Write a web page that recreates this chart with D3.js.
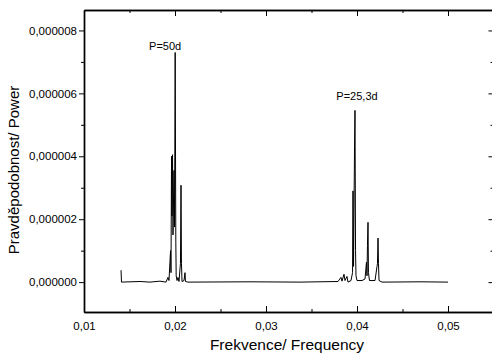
<!DOCTYPE html>
<html>
<head>
<meta charset="utf-8">
<script src="https://cdn.jsdelivr.net/npm/d3@7"></script>
<style>
body { margin: 0; background: #fff; }
svg { display: block; font-family: "Liberation Sans", Arial, sans-serif; }
.axis path, .axis line { stroke: #000; }
.axis text { fill: #000; font-size: 11.5px; }
</style>
</head>
<body>
<div id="chart-area"></div>
<script>

// periodogram: frequency [1/d] and power
var freq = [0.01407, 0.01412, 0.01615, 0.01725, 0.01835, 0.01901, 0.01923, 0.01934,
	0.01951, 0.01956, 0.01962, 0.01967, 0.01973, 0.01978, 0.01989, 0.01995,
	0.02002, 0.02009, 0.02013, 0.02022, 0.02033, 0.02044, 0.02060, 0.02066,
	0.02071, 0.02077, 0.02099, 0.02110, 0.02115, 0.02143, 0.02824, 0.03374,
	0.03791, 0.03824, 0.03835, 0.03857, 0.03868, 0.03890, 0.03901, 0.03934,
	0.03951, 0.03956, 0.03962, 0.03973, 0.03978, 0.03984, 0.03989, 0.04000,
	0.04055, 0.04088, 0.04104, 0.04110, 0.04115, 0.04121, 0.04126, 0.04137,
	0.04198, 0.04220, 0.04225, 0.04231, 0.04236, 0.04242, 0.04275, 0.04692, 0.05000];

var power = [0.38e-6, 0, 0.02e-6, 0, 0.03e-6, 0, 0.15e-6, 0.05e-6,
	1.0e-6, 0.3e-6, 4.0e-6, 2.1e-6, 4.05e-6, 1.5e-6, 3.55e-6, 1.75e-6,
	7.3e-6, 1.27e-6, 0.2e-6, 0.05e-6, 0.15e-6, 0.02e-6, 0.6e-6, 3.08e-6,
	0.6e-6, 0.02e-6, 0.05e-6, 0.3e-6, 0.02e-6, 0, 0.01e-6, 0,
	0.02e-6, 0.15e-6, 0.03e-6, 0.25e-6, 0.05e-6, 0.18e-6, 0, 0.05e-6,
	0.3e-6, 2.9e-6, 0.5e-6, 4.3e-6, 5.46e-6, 1.0e-6, 0.2e-6, 0.05e-6,
	0.05e-6, 0.1e-6, 0.63e-6, 0.2e-6, 1.17e-6, 1.9e-6, 0.3e-6, 0.05e-6,
	0.05e-6, 0.5e-6, 0.6e-6, 1.4e-6, 0.6e-6, 0.05e-6, 0, 0.01e-6, 0];

// tick values and labels
var xTicks = [0.01, 0.02, 0.03, 0.04, 0.05];
var xTickLabels = ["0,01", "0,02", "0,03", "0,04", "0,05"];
var xMinor = [0.015, 0.025, 0.035, 0.045, 0.055];
var yTicks = [0, 2e-6, 4e-6, 6e-6, 8e-6];
var yTickLabels = ["0,000000", "0,000002", "0,000004", "0,000006", "0,000008"];
var yMinor = [1e-6, 3e-6, 5e-6, 7e-6];

// peak annotations
var peakLabels = ["P=50d", "P=25,3d"];
var peakFreq = [0.02002, 0.03978];
var peakPower = [7.3e-6, 5.46e-6];

var width = 492, height = 357;

var svg = d3.select("#chart-area").append("svg")
	.attr("width", width)
	.attr("height", height);

var x = d3.scaleLinear()
	.domain([0.01, 0.055])
	.range([84, 493.5]);

var y = d3.scaleLinear()
	.domain([-0.95e-6, 8.65e-6])
	.range([312, 10]);

var x0 = x.range()[0], x1 = x.range()[1];
var y0 = y.range()[0], y1 = y.range()[1];

// bottom axis, ticks pointing in
svg.append("g")
	.attr("class", "axis")
	.attr("transform", "translate(0," + y0 + ")")
	.call(d3.axisBottom(x).tickValues(xTicks).tickSizeInner(-6).tickSizeOuter(0).tickPadding(10)
		.tickFormat(function(d, i) { return xTickLabels[i]; }));
svg.append("g")
	.attr("class", "axis")
	.attr("transform", "translate(0," + y0 + ")")
	.call(d3.axisBottom(x).tickValues(xMinor).tickSizeInner(-3).tickSizeOuter(0).tickFormat(""));

// top axis
svg.append("g")
	.attr("class", "axis")
	.attr("transform", "translate(0," + y1 + ")")
	.call(d3.axisTop(x).tickValues(xTicks).tickSizeInner(-6).tickSizeOuter(0).tickFormat(""));
svg.append("g")
	.attr("class", "axis")
	.attr("transform", "translate(0," + y1 + ")")
	.call(d3.axisTop(x).tickValues(xMinor).tickSizeInner(-3).tickSizeOuter(0).tickFormat(""));

// left axis, ticks pointing out
svg.append("g")
	.attr("class", "axis")
	.attr("transform", "translate(" + x0 + ",0)")
	.call(d3.axisLeft(y).tickValues(yTicks).tickSizeInner(5).tickSizeOuter(0).tickPadding(2)
		.tickFormat(function(d, i) { return yTickLabels[i]; }));
svg.append("g")
	.attr("class", "axis")
	.attr("transform", "translate(" + x0 + ",0)")
	.call(d3.axisLeft(y).tickValues(yMinor).tickSizeInner(3).tickSizeOuter(0).tickFormat(""));

// right axis
svg.append("g")
	.attr("class", "axis")
	.attr("transform", "translate(" + x1 + ",0)")
	.call(d3.axisRight(y).tickValues(yTicks).tickSizeInner(-5).tickSizeOuter(0).tickFormat(""));
svg.append("g")
	.attr("class", "axis")
	.attr("transform", "translate(" + x1 + ",0)")
	.call(d3.axisRight(y).tickValues(yMinor).tickSizeInner(-3).tickSizeOuter(0).tickFormat(""));

svg.selectAll(".axis path").attr("stroke-width", 1.4);

// spectrum line
var line = d3.line()
	.x(function(d, i) { return x(freq[i]); })
	.y(function(d) { return y(d); });

svg.append("path")
	.attr("d", line(power))
	.attr("fill", "none")
	.attr("stroke", "#000")
	.attr("stroke-width", 1);

// annotations
svg.selectAll(".peak")
	.data(peakLabels)
	.enter().append("text")
	.attr("class", "peak")
	.attr("x", function(d, i) { return x(peakFreq[i]) + (i == 0 ? -10 : 2); })
	.attr("y", function(d, i) { return y(peakPower[i]) - (i == 0 ? 2 : 10); })
	.attr("text-anchor", "middle")
	.attr("font-size", "11px")
	.text(function(d) { return d; });

// axis titles
svg.append("text")
	.attr("x", 287)
	.attr("y", 350)
	.attr("text-anchor", "middle")
	.attr("font-size", "15.5px")
	.text("Frekvence/ Frequency");

svg.append("text")
	.attr("transform", "translate(19,170) rotate(-90)")
	.attr("text-anchor", "middle")
	.attr("font-size", "15px")
	.text("Pravděpodobnost/ Power");

</script>
</body>
</html>
